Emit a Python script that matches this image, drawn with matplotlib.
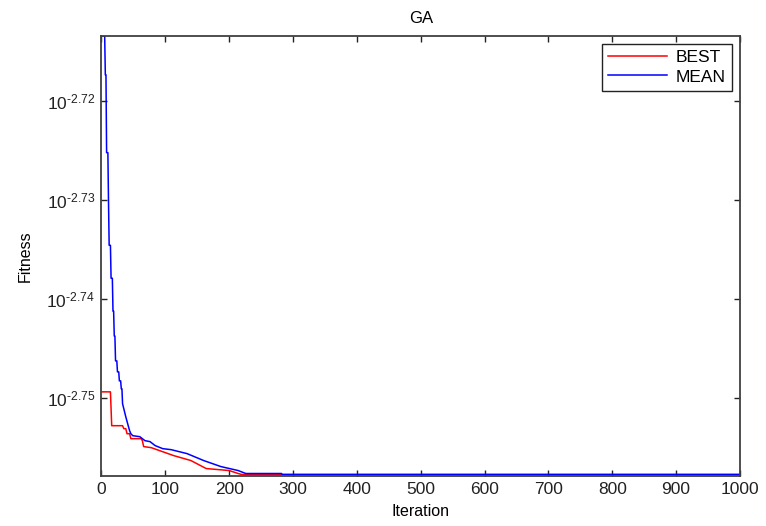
import matplotlib.pyplot as plt
from matplotlib.ticker import NullLocator

plt.rcParams['font.family'] = ['Liberation Sans', 'DejaVu Sans']
plt.rcParams['mathtext.fontset'] = 'custom'
plt.rcParams['mathtext.rm'] = 'Liberation Sans'
plt.rcParams['mathtext.default'] = 'regular'

# log10(fitness)
best_iter = [1, 14, 16, 33, 35, 38, 40, 44, 46, 62, 64, 66, 78, 113, 140, 164, 200, 214, 220, 1000]
best_log = [-2.7494, -2.7494, -2.75282, -2.75282, -2.75312, -2.75312, -2.75363, -2.75363,
            -2.75413, -2.75413, -2.75433, -2.75493, -2.75504, -2.75584, -2.75634, -2.75715,
            -2.75735, -2.75765, -2.75775, -2.75775]

mean_iter = [1, 5, 6, 7, 8, 10, 11, 12, 14, 15, 17, 18, 19, 20, 21, 22, 24, 25, 27, 28, 30,
             31, 32, 33, 38, 41, 44, 46, 49, 60, 68, 76, 84, 96, 109, 134, 160, 187, 214,
             226, 282, 283, 1000]
mean_log = [-2.71344, -2.71344, -2.71737, -2.71737, -2.72523, -2.72523, -2.73026, -2.73459,
            -2.73459, -2.73792, -2.73792, -2.74124, -2.74124, -2.74376, -2.74376, -2.74627,
            -2.74627, -2.74738, -2.74738, -2.74829, -2.74829, -2.74909, -2.74909, -2.7506,
            -2.75191, -2.75262, -2.75332, -2.75363, -2.75383, -2.75393, -2.75433, -2.75443,
            -2.75483, -2.75514, -2.75524, -2.75564, -2.75634, -2.75695, -2.75735, -2.75765,
            -2.75765, -2.75775, -2.75775]

ytick_exp = [-2.72, -2.73, -2.74, -2.75]
xticks = [0, 100, 200, 300, 400, 500, 600, 700, 800, 900, 1000]

best = [10 ** v for v in best_log]
mean = [10 ** v for v in mean_log]

fig = plt.figure(figsize=(7.66, 5.26), dpi=100)
ax = fig.add_axes([0.1325, 0.0951, 0.8335, 0.8365])

ax.plot(best_iter, best, color='#ff0000', linewidth=1.1, label='BEST')
ax.plot(mean_iter, mean, color='#0000ff', linewidth=1.1, label='MEAN')

ax.set_yscale('log')
ax.set_xlim(0, 1000)
ax.set_ylim(10 ** -2.7579, 10 ** -2.71344)
ax.set_xticks(xticks)
ax.set_xticklabels([str(t) for t in xticks])
ax.set_yticks([10 ** e for e in ytick_exp])
ax.set_yticklabels([r'$10^{\text{%.2f}}$' % e for e in ytick_exp])
ax.yaxis.set_minor_locator(NullLocator())

ax.tick_params(direction='in', length=4, width=1, top=True, right=True,
               labelsize=12.5, colors='#222222', pad=4.5)
for s in ax.spines.values():
    s.set_color('#404040')
    s.set_linewidth(1.3)

ax.set_title('GA', fontsize=12, pad=9)
ax.set_xlabel('Iteration', fontsize=11.5, labelpad=5)
ax.set_ylabel('Fitness', fontsize=11.5, labelpad=10)

leg = ax.legend(loc='upper right', fontsize=12.5, fancybox=False, framealpha=1,
                borderaxespad=0.45, handlelength=3.4, handletextpad=0.5, borderpad=0.35,
                labelspacing=0.25)
leg.get_frame().set_edgecolor('#222222')
leg.get_frame().set_linewidth(1.0)

fig.savefig('out.png', dpi=100)
